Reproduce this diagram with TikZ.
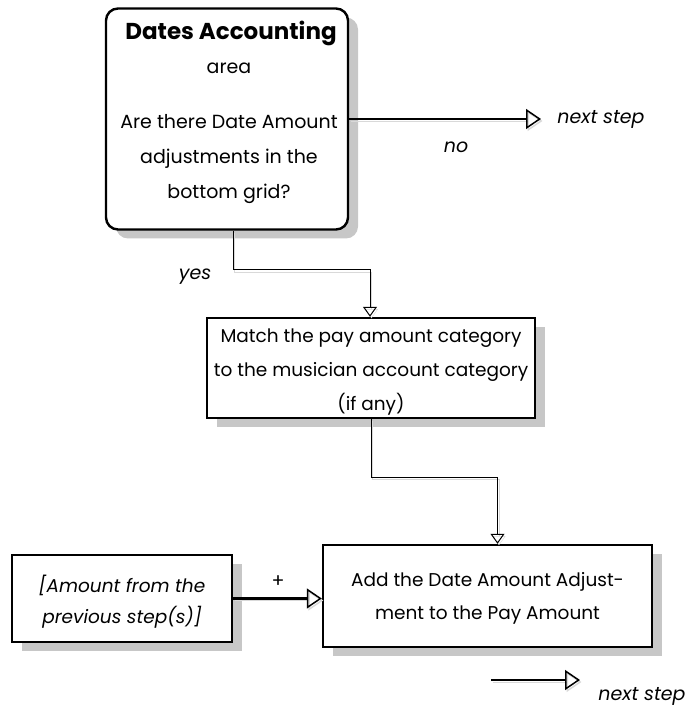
\documentclass[tikz,border=0pt]{standalone}
\usepackage{fontspec}
\setmainfont{Poppins}
\usetikzlibrary{arrows.meta,shadows}

\tikzset{
  every node/.style={font=\fontsize{18.5}{35}\selectfont},
  boxshadow/.style={drop shadow={shadow xshift=10pt,shadow yshift=-9pt,fill=black!22,opacity=1}},
  stepbox/.style={draw,line width=2.4pt,fill=white,boxshadow,inner sep=0pt},
  boxtext/.style={align=center,inner sep=0pt},
  lbl/.style={font=\fontsize{19}{22}\selectfont\itshape},
  lshadow/.style={preaction={draw=black!15,transform canvas={xshift=1.5pt,yshift=-2pt}}},
  thinconn/.style={draw,line width=1pt,lshadow,-{Triangle[open,length=10pt,width=14pt,line width=1pt]}},
  thickconn/.style={draw,line width=2.2pt,lshadow,-{Triangle[open,length=15pt,width=20pt,line width=1.5pt]}}
}

\begin{document}
\begin{tikzpicture}[x=1pt,y=-1pt]
\useasboundingbox (0,0) rectangle (694,708);

% boxes
\node[stepbox,rounded corners=12pt,minimum width=242pt,minimum height=221pt] (b1) at (227,119) {};
\node[stepbox,minimum width=328pt,minimum height=100pt] (b2) at (371,368) {};
\node[stepbox,minimum width=329pt,minimum height=102pt] (b3) at (487.5,596) {};
\node[stepbox,minimum width=220pt,minimum height=87pt] (b4) at (122,598.5) {};

% box texts
\node[boxtext,font=\fontsize{23}{26}\selectfont\bfseries] (b1title) at (231,33) {Dates Accounting};
\node[boxtext,font=\fontsize{19}{35}\selectfont] (b1area) at (229,68) {area};
\node[boxtext,font=\fontsize{19}{35}\selectfont] (b1q) at (229,159)
  {Are there Date Amount\\ adjustments in the\\ bottom grid?};
\node[boxtext,font=\fontsize{18.5}{34}\selectfont] (b2t) at (371,372)
  {Match the pay amount category\\ to the musician account category\\ (if any)};
\node[boxtext,font=\fontsize{18.5}{33}\selectfont] (b3t) at (487.5,598)
  {Add the Date Amount Adjust-\\ ment to the Pay Amount};
\node[boxtext,font=\fontsize{18.5}{31}\selectfont\itshape] (b4t) at (122,602)
  {[Amount from the\\ previous step(s)]};

% free ends of the outgoing arrows
\coordinate (n1) at (541,119);
\coordinate (s2a) at (491,680);
\coordinate (s2b) at (580,680);

% connectors
\draw[thickconn] (b1.east) -- (n1);
\draw[thinconn] ([xshift=6pt]b1.south) -- ++(0,39) -| ([xshift=-1pt]b2.north);
\draw[thinconn] (b2.south) -- ++(0,58) -| ([xshift=10pt]b3.north);
\draw[thickconn] (b4.east) -- (b4.east -| b3.west);
\draw[thickconn] (s2a) -- (s2b);

% labels
\node[lbl] (tnext1) at (601,119) {next step};
\node[lbl] (tno) at (456,147) {no};
\node[lbl] (tyes) at (195,277) {yes};
\node[font=\fontsize{19}{22}\selectfont] (tplus) at (278,582) {+};
\node[lbl] (tnext2) at (642,696) {next step};
\end{tikzpicture}
\end{document}
